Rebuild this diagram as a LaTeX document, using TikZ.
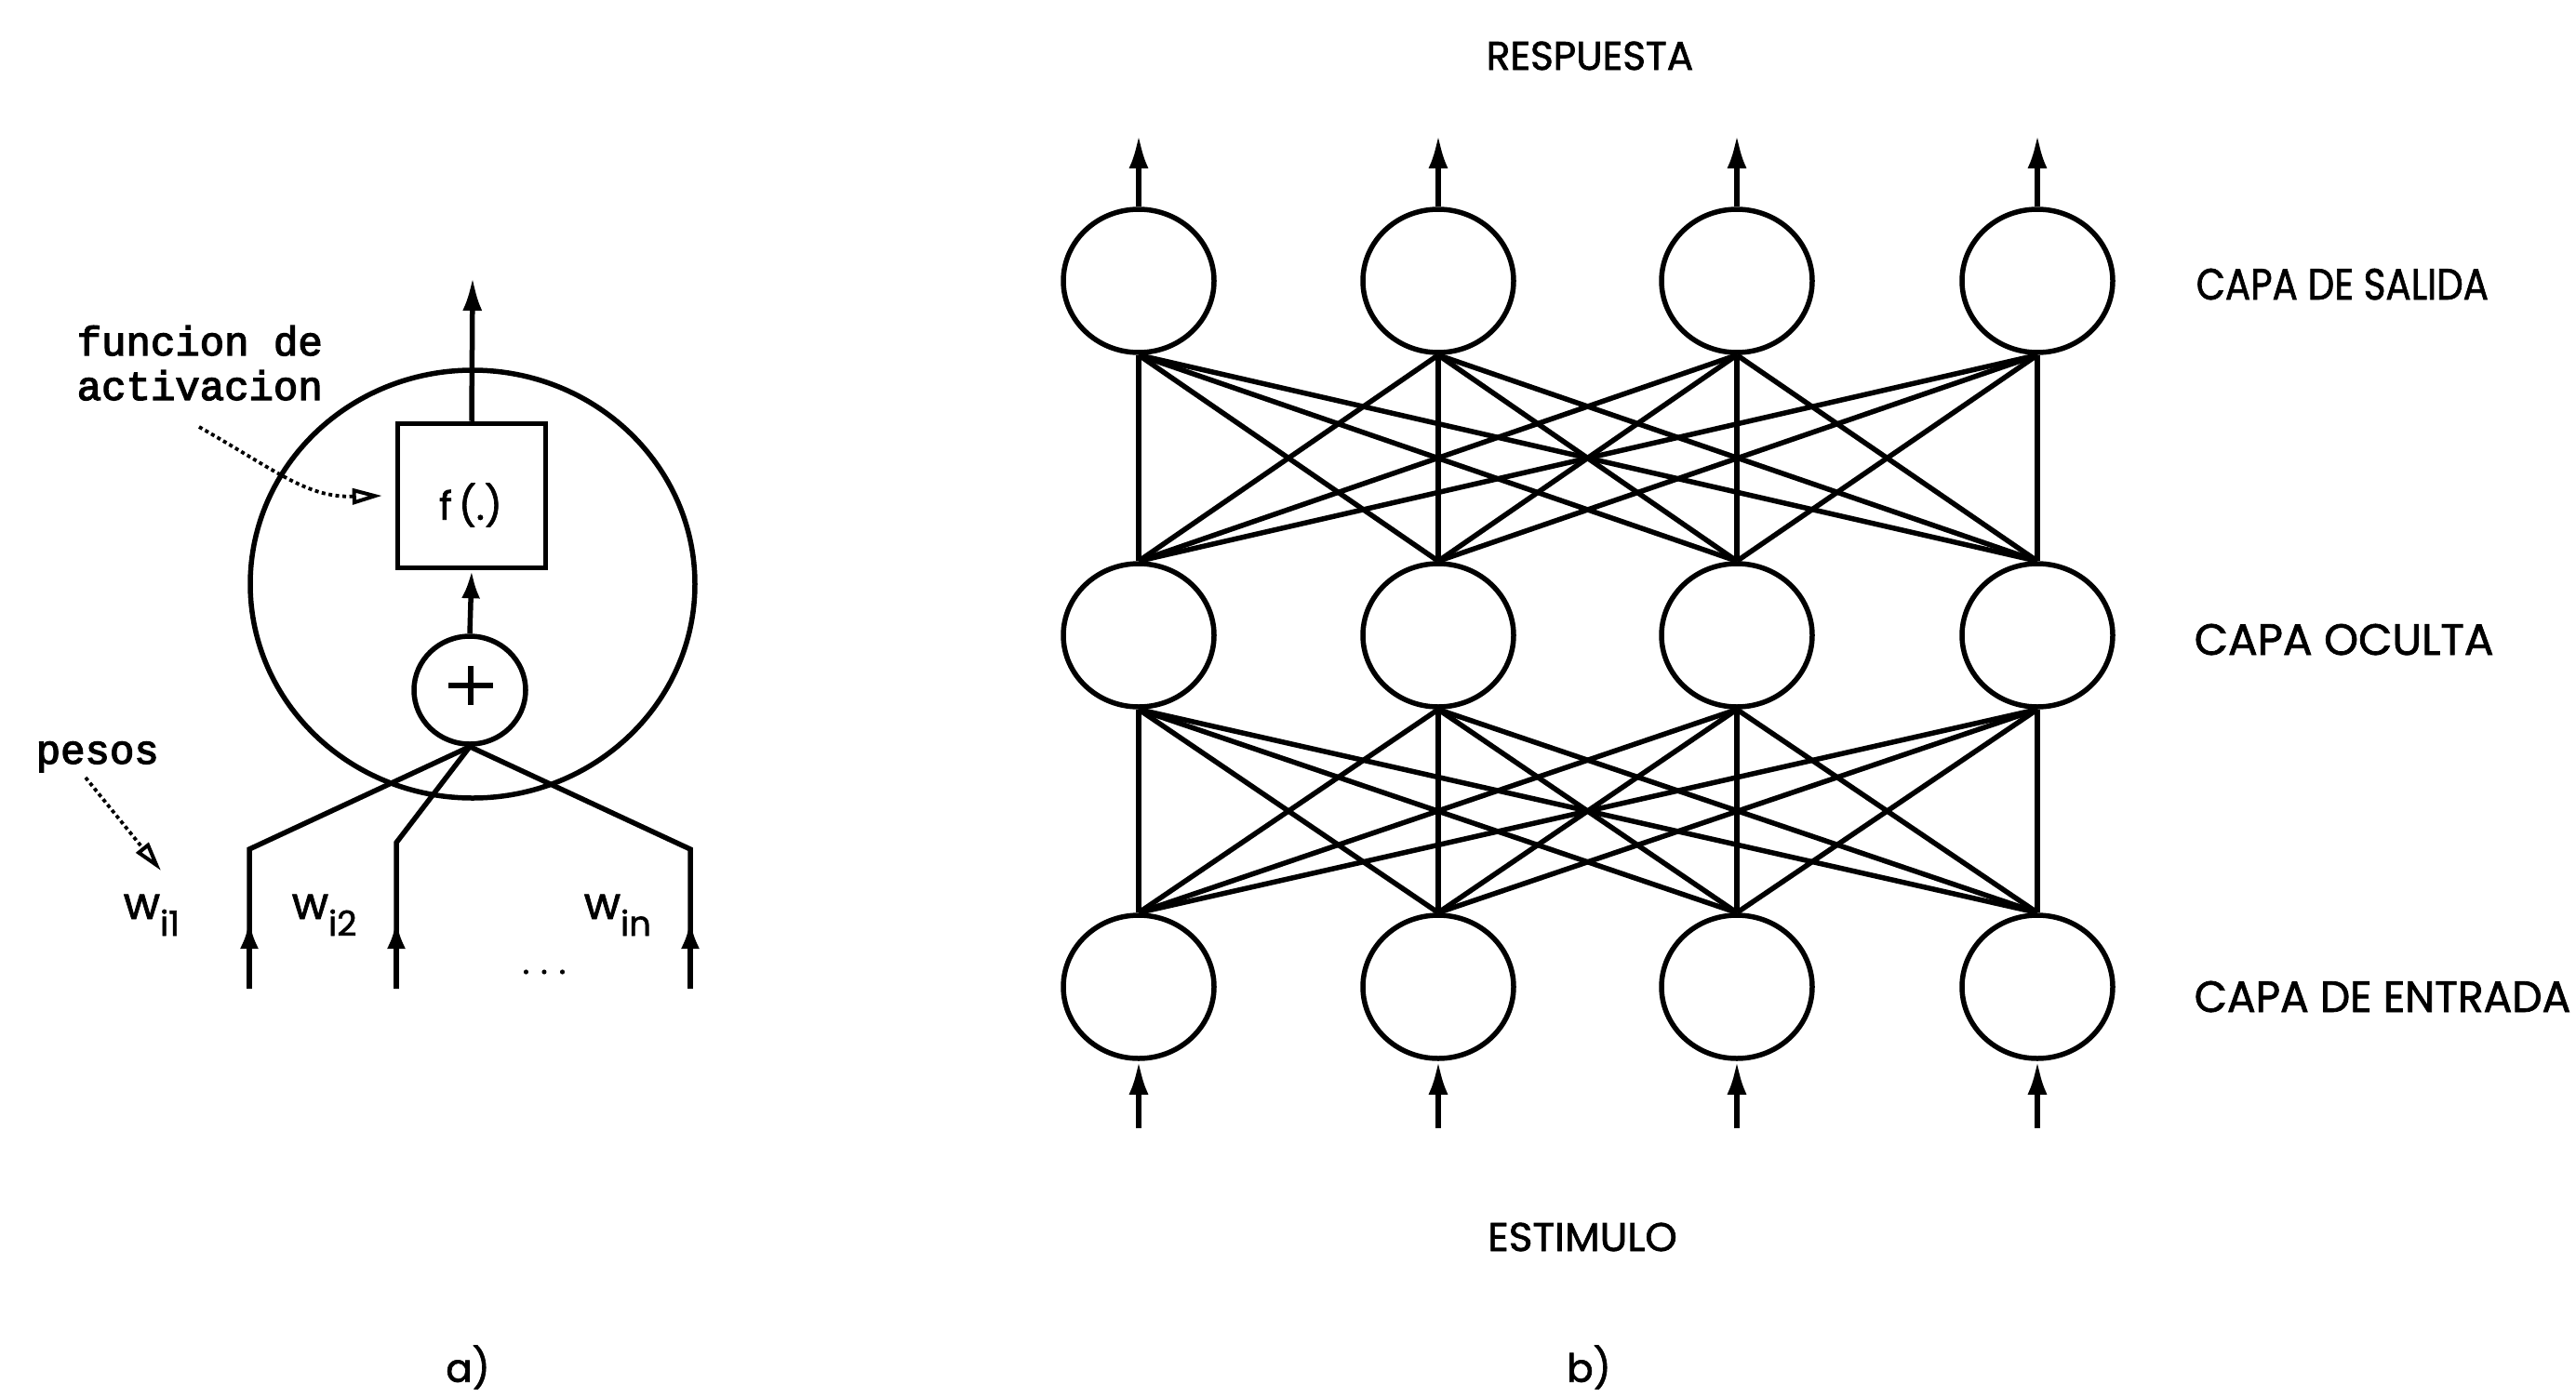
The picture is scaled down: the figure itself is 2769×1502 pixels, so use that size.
\documentclass[tikz,border=0pt]{standalone}
\usepackage{fontspec}
\setmainfont{Poppins}[FakeBold=1.6]
\newfontfamily\monof{Liberation Mono}[FakeBold=3]
\usetikzlibrary{arrows.meta,shapes.geometric}

% horizontally scaled caption text
\newcommand\lbl[2]{\scalebox{#1}[1]{#2}}
% weight label with lowered index
\newcommand\wlab[1]{w\raisebox{-18pt}{\fontsize{37}{37}\selectfont #1}}

\begin{document}
\begin{tikzpicture}[x=1pt,y=-1pt,
  line width=5.5pt,
  neuron/.style={draw, ellipse, minimum width=162pt, minimum height=154pt, inner sep=0pt},
  bigtip/.style={-{Latex[length=36pt,width=21pt]}},
  smalltip/.style={-{Latex[length=30pt,width=20pt]}},
  dotarrow/.style={line width=3.8pt, dash pattern=on 4pt off 3.5pt,
                   -{Triangle[open,length=32pt,width=17pt,line width=4pt]}},
  mono/.style={font=\monof\fontsize{44}{48}\selectfont, anchor=base west, inner sep=0pt},
  layer/.style={font=\fontsize{47}{50}\selectfont, anchor=base west, inner sep=0pt},
  io/.style={font=\fontsize{43}{46}\selectfont, anchor=base, inner sep=0pt},
  caption/.style={font=\fontsize{42}{46}\selectfont, inner sep=0pt},
  wlabel/.style={font=\fontsize{48}{50}\selectfont, anchor=base west, inner sep=0pt}
]
\useasboundingbox (0,0) rectangle (2769,1502);

% ---------- a) single neuron ----------
\node[draw, ellipse, minimum width=478pt, minimum height=460pt, inner sep=0pt] (cell) at (508,628) {};
\node[draw, rectangle, minimum width=159pt, minimum height=155pt, inner sep=0pt] (fbox) at (507,533) {};
\node[font=\fontsize{42}{44}\selectfont, inner sep=0pt] (ftxt) at (506,543) {f\,(.)};
\node[draw, ellipse, minimum width=120pt, minimum height=116pt, inner sep=0pt] (sum) at (505,742) {};
% plus sign of the summing junction
\draw (482,737) -- (530,737);
\draw (506,716) -- (506,758);

\coordinate (yout) at (508,298);
\draw[bigtip] (fbox.north) -- (yout);
\draw[smalltip] (sum.north) -- (fbox.south);

% weighted inputs
\coordinate (k1) at (268,913);
\coordinate (k2) at (426,906);
\coordinate (k3) at (742,913);
\coordinate (x1) at (268,1063);
\coordinate (x2) at (426,1063);
\coordinate (x3) at (742,1063);
\coordinate (a1) at (268,990);
\coordinate (a2) at (426,990);
\coordinate (a3) at (742,990);
\foreach \j in {1,2,3} {
  \draw (sum.south) -- (k\j) -- (x\j);
  \draw[smalltip] (x\j) -- (a\j);
}

\node[wlabel] (w1) at (130,988) {\wlab{i1}};
\node[wlabel] (w2) at (311,988) {\wlab{i2}};
\node[wlabel] (wn) at (625,988) {\wlab{in}};
\node[font=\fontsize{36}{36}\selectfont, anchor=base, inner sep=0pt] (dd) at (585,1047) {.\hspace{12pt}.\hspace{12pt}.};

% annotations
\node[mono] (fl1) at (80,382) {funcion de};
\node[mono] (fl2) at (80,430) {activacion};
\coordinate (fd0) at (214,459);
\draw[dotarrow] (fd0) .. controls (300,508) and (330,535) .. ([xshift=-14pt]fbox.west);

\node[mono] (pes) at (36,821) {pesos};
\coordinate (pd0) at (92,836);
\coordinate (pd1) at (173,936);
\draw[dotarrow] (pd0) -- (pd1);

\node[caption] (capa) at (503,1470) {a)};

% ---------- b) layered network ----------
\foreach \i/\x in {1/1224,2/1546,3/1867,4/2190} {
  \node[neuron] (o\i) at (\x,302) {};
  \node[neuron] (h\i) at (\x,683) {};
  \node[neuron] (n\i) at (\x,1061) {};
  \coordinate (r\i) at (\x,145);
  \coordinate (s\i) at (\x,1213);
  \draw[bigtip] (o\i.north) -- (r\i);
  \draw[bigtip] (s\i) -- (n\i.south);
}
\foreach \a in {1,...,4} {
  \foreach \b in {1,...,4} {
    \draw (o\a.south) -- (h\b.north);
    \draw (h\a.south) -- (n\b.north);
  }
}

\node[io] (resp) at (1709,75) {\lbl{0.98}{RESPUESTA}};
\node[io] (est) at (1701,1345) {\lbl{1.02}{ESTIMULO}};
\node[layer] (lo) at (2358,322) {\lbl{0.86}{CAPA DE SALIDA}};
\node[layer] (lh) at (2356,704) {\lbl{1.0}{CAPA OCULTA}};
\node[layer] (li) at (2356,1088) {\lbl{0.97}{CAPA DE ENTRADA}};

\node[caption] (capb) at (1708,1470) {b)};
\end{tikzpicture}
\end{document}
